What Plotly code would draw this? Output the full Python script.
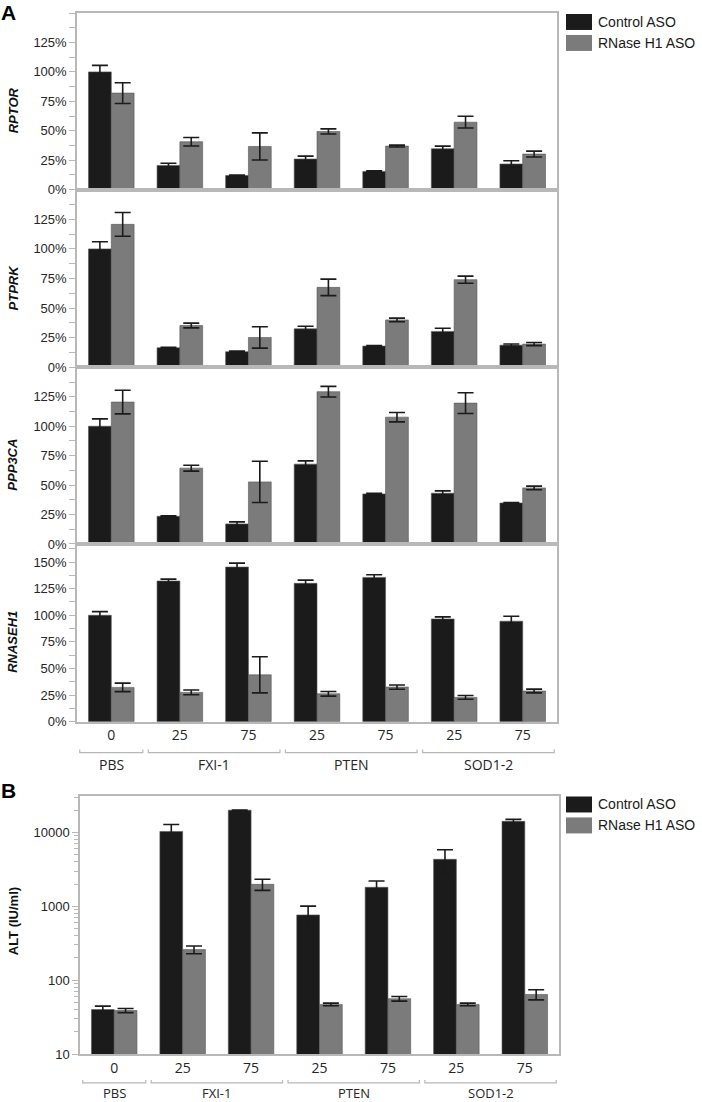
import plotly.graph_objects as go

# ---------------- data ----------------
groups = ["PBS", "FXI-1", "FXI-1", "PTEN", "PTEN", "SOD1-2", "SOD1-2"]
doses = ["0", "25", "75", "25", "75", "25", "75"]
series_names = ["Control ASO", "RNase H1 ASO"]
genes = ["RPTOR", "PTPRK", "PPP3CA", "RNASEH1"]

rptor_ctrl = [100, 20.6, 12, 26, 15.5, 34.7, 21.8]
rptor_ctrl_err = [5.5, 1.8, 0.5, 2.5, 0.5, 2.3, 2.8]
rptor_rn = [82, 40.7, 36.7, 49.4, 37, 57.3, 30.2]
rptor_rn_err = [8.8, 3.6, 11.5, 2.2, 0.8, 5, 2.5]

ptprk_ctrl = [100, 16.5, 13.2, 32.5, 17.9, 30.3, 18.7]
ptprk_ctrl_err = [6, 0.5, 0.5, 2.2, 0.5, 2.7, 1]
ptprk_rn = [120.7, 35.3, 25.2, 67.5, 40, 74, 19.6]
ptprk_rn_err = [10, 2, 9, 7, 1.5, 3, 1.3]

ppp3ca_ctrl = [100, 23.5, 17, 67.8, 42.5, 43.1, 34.8]
ppp3ca_ctrl_err = [6.2, 0.5, 1.8, 2.8, 0.5, 2, 0.3]
ppp3ca_rn = [120.5, 64.4, 52.7, 129.3, 107.7, 119.6, 47.6]
ppp3ca_rn_err = [10, 2.5, 17.5, 4.5, 4, 8.8, 1.5]

rnaseh1_ctrl = [100, 132.2, 145.3, 130, 135.6, 96.5, 94.4]
rnaseh1_ctrl_err = [3.4, 1.8, 3.7, 3, 2.5, 2, 4.6]
rnaseh1_rn = [32.2, 27.5, 44, 26.2, 32.5, 22.8, 28.8]
rnaseh1_rn_err = [4, 2.2, 17, 2.2, 2, 1.8, 1.8]

alt_ctrl = [40, 10300, 20000, 763, 1807, 4320, 14100]
alt_ctrl_err = [4.5, 2500, 0, 240, 390, 1500, 900]
alt_rn = [38.8, 259, 1980, 46.9, 56, 46.9, 64]
alt_rn_err = [2.5, 31, 340, 2, 4, 2, 10]

pct_ticks = [0, 25, 50, 75, 100, 125, 150]
alt_ticks = [10, 100, 1000, 10000]

# ---------------- styling ----------------
W, H = 702, 1102
L, R, T, B = 77, 143, 11, 48
PW, PH = W - L - R, H - T - B


def px2x(p):
    return (p - L) / PW


def py2y(p):
    return (H - B - p) / PH


C_CTRL = "#1b1b1b"
C_RN = "#7b7b7b"
FRAME = "#b8b8b8"
TXT = "#262626"
FONT = "Liberation Sans, Arial, sans-serif"
XFONT = "Open Sans, Noto Sans, sans-serif"

xs = list(range(len(doses)))

fig = go.Figure()

panelA = [
    (rptor_ctrl, rptor_ctrl_err, rptor_rn, rptor_rn_err, 150),
    (ptprk_ctrl, ptprk_ctrl_err, ptprk_rn, ptprk_rn_err, 150),
    (ppp3ca_ctrl, ppp3ca_ctrl_err, ppp3ca_rn, ppp3ca_rn_err, 150),
    (rnaseh1_ctrl, rnaseh1_ctrl_err, rnaseh1_rn, rnaseh1_rn_err, 167),
]
# pixel rows of each panel (top, bottom)
rowsA = [(11, 188), (188, 366), (366, 543), (543, 721)]
rowB = (796, 1054)


def add_pair(ctrl, cerr, rn, rerr, xa, ya):
    for vals, errs, col, name in ((ctrl, cerr, C_CTRL, series_names[0]),
                                  (rn, rerr, C_RN, series_names[1])):
        fig.add_trace(go.Bar(
            x=xs, y=vals, name=name, showlegend=False,
            marker=dict(color=col, line=dict(color="#555555", width=0.6)),
            error_y=dict(type="data", array=errs, visible=True,
                         color="#1b1b1b", thickness=1.6, width=8),
            xaxis=xa, yaxis=ya,
        ))


layout_axes = {}
for i, (ctrl, cerr, rn, rerr, top) in enumerate(panelA):
    n = i + 1
    xa = "x" if n == 1 else f"x{n}"
    ya = "y" if n == 1 else f"y{n}"
    add_pair(ctrl, cerr, rn, rerr, xa, ya)
    t, b = rowsA[i]
    xkey = "xaxis" if n == 1 else f"xaxis{n}"
    ykey = "yaxis" if n == 1 else f"yaxis{n}"
    tv = [v for v in pct_ticks if v < top - 5 or (top > 160 and v <= 150)]
    layout_axes[xkey] = dict(
        domain=[0, px2x(557)], anchor=ya, range=[-0.5, 6.5],
        showline=True, linecolor=FRAME, linewidth=1.5, mirror=True,
        showgrid=False, zeroline=False, ticks="",
        tickmode="array", tickvals=xs, ticktext=doses,
        showticklabels=(n == 4),
        tickfont=dict(family=XFONT, size=14, color=TXT),
        **({} if n == 1 else {"matches": "x"}),
    )
    layout_axes[ykey] = dict(
        domain=[py2y(b), py2y(t)], anchor=xa, range=[0, top],
        showline=True, linecolor=FRAME, linewidth=1.5, mirror=True,
        showgrid=False, zeroline=False,
        tickmode="array", tickvals=tv, ticktext=[f"{v}%" for v in tv],
        ticks="outside", ticklen=6, tickcolor=FRAME, tickwidth=1.2,
        minor=dict(ticks="outside", ticklen=6, tickcolor=FRAME,
                   tickwidth=1.2, dtick=12.5, tick0=0),
        tickfont=dict(family=FONT, size=13, color=TXT),
    )

add_pair(alt_ctrl, alt_ctrl_err, alt_rn, alt_rn_err, "x5", "y5")
layout_axes["xaxis5"] = dict(
    domain=[px2x(80), px2x(559)], anchor="y5", range=[-0.5, 6.5],
    showline=True, linecolor=FRAME, linewidth=1.5, mirror=True,
    showgrid=False, zeroline=False, ticks="",
    tickmode="array", tickvals=xs, ticktext=doses,
    tickfont=dict(family=XFONT, size=14, color=TXT),
)
layout_axes["yaxis5"] = dict(
    domain=[py2y(rowB[1]), py2y(rowB[0])], anchor="x5", type="log",
    range=[1, 4.486],
    showline=True, linecolor=FRAME, linewidth=1.5, mirror=True,
    showgrid=False, zeroline=False,
    tickmode="array", tickvals=alt_ticks, ticktext=[str(v) for v in alt_ticks],
    ticks="outside", ticklen=6, tickcolor=FRAME, tickwidth=1.2,
    minor=dict(ticks="outside", ticklen=4, tickcolor=FRAME, tickwidth=1,
               dtick="D1"),
    tickfont=dict(family=FONT, size=13, color=TXT),
)

shapes = []
annotations = []

# group brackets and labels
uniq = []
for g in groups:
    if g not in uniq:
        uniq.append(g)


def brackets(xref, y_line, y_label, fsize):
    for g in uniq:
        idx = [k for k, gg in enumerate(groups) if gg == g]
        x0 = min(idx) - 0.5 + 0.04
        x1 = max(idx) + 0.5 - 0.04
        yl = py2y(y_line)
        yt = py2y(y_line - 3)
        shapes.append(dict(
            type="path", xref=xref, yref="paper",
            path=f"M {x0},{yt} L {x0},{yl} L {x1},{yl} L {x1},{yt}",
            line=dict(color=FRAME, width=1.2),
        ))
        annotations.append(dict(
            x=(min(idx) + max(idx)) / 2, y=py2y(y_label), xref=xref, yref="paper",
            text=g, showarrow=False, xanchor="center", yanchor="middle",
            font=dict(family=XFONT, size=fsize, color=TXT),
        ))


brackets("x4", 752, 764, 14)
brackets("x5", 1083, 1093, 13)

# y-axis titles
for i, gname in enumerate(genes):
    t, b = rowsA[i]
    annotations.append(dict(
        x=px2x(13), y=py2y((t + b) / 2 + 9), xref="paper", yref="paper",
        text=f"<b><i>{gname}</i></b>", textangle=-90, showarrow=False,
        xanchor="center", yanchor="middle",
        font=dict(family=FONT, size=13, color="#111111"),
    ))
annotations.append(dict(
    x=px2x(13), y=py2y((rowB[0] + rowB[1]) / 2 - 4), xref="paper", yref="paper",
    text="<b>ALT (IU/ml)</b>", textangle=-90, showarrow=False,
    xanchor="center", yanchor="middle",
    font=dict(family=FONT, size=13, color="#111111"),
))

# panel letters
for letter, (cx, cy) in (("A", (8, 10)), ("B", (8, 790))):
    annotations.append(dict(
        x=px2x(cx), y=py2y(cy), xref="paper", yref="paper",
        text=f"<b>{letter}</b>", showarrow=False,
        xanchor="center", yanchor="middle",
        font=dict(family=FONT, size=21, color="#000000"),
    ))

# legends (drawn for both panels)
for top in (12, 796):
    for j, (name, col) in enumerate(zip(series_names, (C_CTRL, C_RN))):
        y0 = top + j * 21
        shapes.append(dict(
            type="rect", xref="paper", yref="paper",
            x0=px2x(566), x1=px2x(592), y0=py2y(y0 + 16), y1=py2y(y0),
            fillcolor=col, line=dict(width=0),
        ))
        annotations.append(dict(
            x=px2x(596), y=py2y(y0 + 8), xref="paper", yref="paper",
            text=name, showarrow=False, xanchor="left", yanchor="middle",
            font=dict(family=FONT, size=14, color="#1a1a1a"),
        ))

fig.update_layout(
    width=W, height=H,
    margin=dict(l=L, r=R, t=T, b=B, pad=0),
    paper_bgcolor="white", plot_bgcolor="white",
    barmode="group", bargap=0.335, bargroupgap=0,
    showlegend=False,
    shapes=shapes, annotations=annotations,
    **layout_axes,
)

fig.write_html(
    "out.html",
    config={"displayModeBar": False},
    post_script="document.body.style.margin='0px';document.body.style.overflow='hidden';",
)
